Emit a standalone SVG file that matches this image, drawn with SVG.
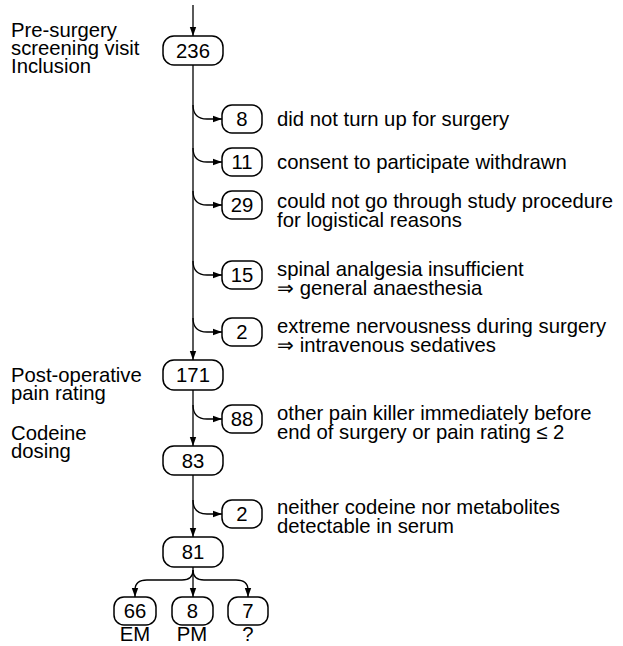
<svg xmlns="http://www.w3.org/2000/svg" width="623" height="646" viewBox="0 0 623 646">
<style>
text{font-family:"Liberation Sans",Arial,sans-serif;font-size:20.3px;fill:#000}
.n{text-anchor:middle}
.b{fill:#fff;stroke:#000;stroke-width:1.5}
.c{fill:none;stroke:#000;stroke-width:1.3}
</style>
<defs>
<marker id="ah" markerUnits="userSpaceOnUse" markerWidth="10" markerHeight="8" refX="9" refY="4" orient="auto">
<path d="M0,0.8 L9,4 L0,7.2 Z" fill="#000"/>
</marker>
</defs>
<g id="labels">
<text x="11" y="37">Pre-surgery</text>
<text x="11" y="55">screening visit</text>
<text x="11" y="73">Inclusion</text>
<text x="11" y="382">Post-operative</text>
<text x="11" y="400">pain rating</text>
<text x="11" y="440">Codeine</text>
<text x="11" y="458">dosing</text>
</g>
<g id="connectors">
<path class="c" d="M193,5 L193,36" marker-end="url(#ah)"/>
<path class="c" d="M193,65 L193,360" marker-end="url(#ah)"/>
<path class="c" d="M193,105 Q193,119 207,119 L222,119" marker-end="url(#ah)"/>
<path class="c" d="M193,148 Q193,162 207,162 L222,162" marker-end="url(#ah)"/>
<path class="c" d="M193,191 Q193,205 207,205 L222,205" marker-end="url(#ah)"/>
<path class="c" d="M193,261 Q193,275 207,275 L222,275" marker-end="url(#ah)"/>
<path class="c" d="M193,318 Q193,332 207,332 L222,332" marker-end="url(#ah)"/>
<path class="c" d="M193,390 L193,446" marker-end="url(#ah)"/>
<path class="c" d="M193,405 Q193,419 207,419 L222,419" marker-end="url(#ah)"/>
<path class="c" d="M193,475 L193,537" marker-end="url(#ah)"/>
<path class="c" d="M193,500 Q193,514 207,514 L222,514" marker-end="url(#ah)"/>
<path class="c" d="M193,567 L193,597" marker-end="url(#ah)"/>
<path class="c" d="M193,570 Q193,580 182,580 L147,580 Q135,580 135,590 L135,597" marker-end="url(#ah)"/>
<path class="c" d="M193,570 Q193,580 204,580 L236,580 Q248,580 248,590 L248,597" marker-end="url(#ah)"/>
</g>
<g id="n236"><rect class="b" x="163" y="36" width="60" height="29" rx="11"/><text class="n" x="193" y="58">236</text></g>
<g id="n8"><rect class="b" x="222" y="105" width="40" height="28" rx="10"/><text class="n" x="242" y="126">8</text></g>
<text x="277" y="126">did not turn up for surgery</text>
<g id="n11"><rect class="b" x="222" y="148" width="40" height="28" rx="10"/><text class="n" x="242" y="169">11</text></g>
<text x="277" y="169">consent to participate withdrawn</text>
<g id="n29"><rect class="b" x="222" y="191" width="40" height="28" rx="10"/><text class="n" x="242" y="212">29</text></g>
<text x="277" y="208">could not go through study procedure</text>
<text x="277" y="227">for logistical reasons</text>
<g id="n15"><rect class="b" x="222" y="261" width="40" height="28" rx="10"/><text class="n" x="242" y="282">15</text></g>
<text x="277" y="276">spinal analgesia insufficient</text>
<text x="277" y="295">⇒ general anaesthesia</text>
<g id="n2a"><rect class="b" x="222" y="318" width="40" height="28" rx="10"/><text class="n" x="242" y="339">2</text></g>
<text x="277" y="333">extreme nervousness during surgery</text>
<text x="277" y="352">⇒ intravenous sedatives</text>
<g id="n171"><rect class="b" x="163" y="360" width="60" height="30" rx="11"/><text class="n" x="193" y="382">171</text></g>
<g id="n88"><rect class="b" x="222" y="405" width="40" height="28" rx="10"/><text class="n" x="242" y="426">88</text></g>
<text x="277" y="420">other pain killer immediately before</text>
<text x="277" y="439">end of surgery or pain rating ≤ 2</text>
<g id="n83"><rect class="b" x="163" y="446" width="60" height="29" rx="11"/><text class="n" x="193" y="468">83</text></g>
<g id="n2b"><rect class="b" x="222" y="500" width="40" height="28" rx="10"/><text class="n" x="242" y="521">2</text></g>
<text x="277" y="514">neither codeine nor metabolites</text>
<text x="277" y="533">detectable in serum</text>
<g id="n81"><rect class="b" x="163" y="537" width="60" height="30" rx="11"/><text class="n" x="193" y="559">81</text></g>
<g id="n66"><rect class="b" x="114" y="597" width="42" height="28" rx="10"/><text class="n" x="135" y="618">66</text></g>
<g id="n8b"><rect class="b" x="172" y="597" width="41" height="28" rx="10"/><text class="n" x="192.5" y="618">8</text></g>
<g id="n7"><rect class="b" x="228" y="597" width="40" height="28" rx="10"/><text class="n" x="248" y="618">7</text></g>
<text class="n" x="135" y="641">EM</text>
<text class="n" x="192" y="641">PM</text>
<text class="n" x="248" y="641">?</text>
</svg>
